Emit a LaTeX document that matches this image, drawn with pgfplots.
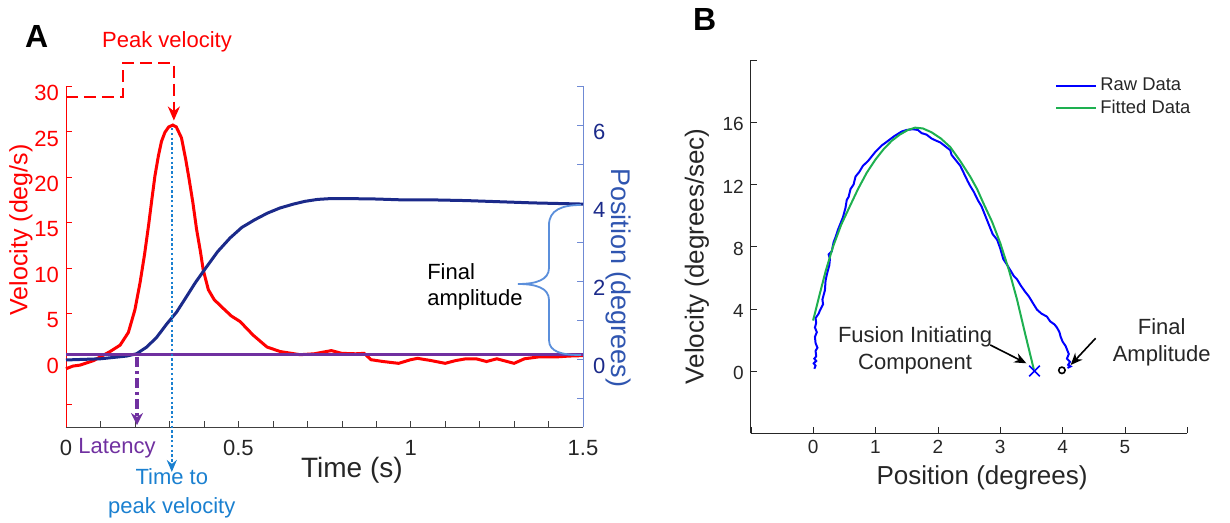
\documentclass[border=0pt]{standalone}
\usepackage{fontspec}
\setmainfont{Liberation Sans}
\usepackage{pgfplots}
\pgfplotsset{compat=1.18}
\usetikzlibrary{arrows.meta}

\definecolor{velred}{HTML}{FF0000}
\definecolor{posnavy}{HTML}{1B2A8A}
\definecolor{posaxis}{HTML}{6F8AD4}
\definecolor{poslab}{HTML}{2F55B0}
\definecolor{latpurple}{HTML}{7030A0}
\definecolor{peakblue}{HTML}{1A80D0}
\definecolor{bracecol}{HTML}{5B8FDB}
\definecolor{axgray}{HTML}{404040}
\definecolor{txtgray}{HTML}{262626}
\definecolor{rawblue}{HTML}{0000FF}
\definecolor{fitgreen}{HTML}{1EB050}

\pgfplotsset{
  every axis/.append style={/pgf/number format/assume math mode=true, clip=false,
    scale only axis, tick align=inside, major tick length=3pt, minor tick length=3pt},
}
\newcommand{\fs}[1]{\fontsize{#1}{1.2\dimexpr#1pt\relax}\selectfont}

\begin{document}
\begin{tikzpicture}
\path[use as bounding box] (0,0) rectangle (615pt,261.5pt);

% ---- panel A, velocity (left axis)
\begin{axis}[at={(33pt,48pt)}, anchor=south west, width=258.5pt, height=170.5pt,
  xmin=0, xmax=1.5, ymin=-7.5, ymax=30,
  axis x line*=bottom, axis y line*=left,
  x axis line style={axgray}, y axis line style={velred},
  xtick={0,0.5,1,1.5}, minor xtick={0.1,0.2,...,1.45},
  ytick={-5,0,5,...,30}, yticklabels={,0,5,10,15,20,25,30},
  x tick style={axgray}, y tick style={velred},
  xticklabel style={font=\fs{11}, text=txtgray, yshift=-3pt},
  yticklabel style={font=\fs{11}, text=velred, yshift=-3.5pt},
  xlabel={Time (s)},
  every axis x label/.style={at={(axis description cs:0.553,-0.127)}, anchor=center, font=\fs{14}, text=txtgray},
  ylabel={Velocity (deg/s)},
  every axis y label/.style={at={(axis description cs:-0.087,0.578)}, rotate=90, anchor=center, font=\fs{12.5}, text=velred},
]
\addplot[velred, line width=1.5pt] coordinates {
(0,-1.1)(0.02,-0.8)(0.04,-0.7)(0.06,-0.45)(0.08,-0.2)(0.099,0.2)(0.128,0.8)(0.157,1.5)
(0.181,2.9)(0.2,5.4)(0.215,8.4)(0.228,11.5)(0.24,14.8)(0.249,17.5)(0.258,20.1)(0.268,22.3)
(0.277,23.9)(0.287,24.9)(0.298,25.5)(0.31,25.7)(0.32,25.5)(0.335,24.3)(0.347,22.0)(0.357,19.8)
(0.368,17.2)(0.379,14.2)(0.39,11.8)(0.398,9.8)(0.413,7.6)(0.43,6.5)(0.456,5.55)(0.48,4.7)
(0.505,4.1)(0.543,2.6)(0.583,1.3)(0.621,0.8)(0.679,0.45)(0.72,0.55)(0.77,0.9)
(0.80,0.6)(0.84,0.55)(0.865,0.6)(0.885,-0.1)(0.92,-0.3)(0.965,-0.5)(1.0,-0.1)(1.02,0.05)
(1.06,-0.2)(1.10,-0.5)(1.13,-0.2)(1.16,0.0)(1.19,0.0)(1.22,-0.3)(1.25,0.0)(1.3,-0.5)
(1.33,0.0)(1.37,0.2)(1.42,0.2)(1.46,0.3)(1.5,0.35)};
\draw[velred, line width=1.2pt, dash pattern=on 6pt off 3pt, -{Stealth[length=7pt,width=6pt]}]
  (axis cs:0,28.8) -- (axis cs:0.165,28.8) -- (axis cs:0.165,32.5) -- (axis cs:0.313,32.5) -- (axis cs:0.313,26.2);
\node[velred, font=\fs{11}] at (axis cs:0.293,34.84) {Peak velocity};
\node[font=\bfseries\fs{16}] at (axis cs:-0.085,35.4) {A};
\node[anchor=west, align=left, inner sep=0pt, font=\fs{11}] at (axis cs:1.047,7.9) {Final\\amplitude};
\end{axis}

% ---- panel A, position (right axis)
\begin{axis}[at={(33pt,48pt)}, anchor=south west, width=258.5pt, height=170.5pt,
  xmin=0, xmax=1.5, ymin=-1.75, ymax=7,
  axis x line=none, axis y line*=right,
  y axis line style={posaxis}, y tick style={posaxis},
  ytick={0,2,4,6}, minor ytick={-1,1,3,5,7},
  yticklabel style={font=\fs{11}, text=posnavy, yshift=-3.7pt, xshift=1.5pt},
  ylabel={Position (degrees)},
  every axis y label/.style={at={(axis description cs:1.068,0.437)}, rotate=-90, anchor=center, font=\fs{13.5}, text=poslab},
]
\addplot[posnavy, line width=1.5pt] coordinates {
(0,-0.03)(0.1,0)(0.176,0.07)(0.205,0.13)(0.234,0.3)(0.263,0.55)(0.292,0.89)(0.321,1.2)
(0.35,1.6)(0.375,1.95)(0.403,2.3)(0.44,2.75)(0.476,3.1)(0.51,3.37)(0.548,3.57)(0.585,3.74)
(0.621,3.87)(0.66,3.97)(0.693,4.04)(0.73,4.09)(0.766,4.11)(0.824,4.11)(0.9,4.1)(0.968,4.08)
(1.05,4.08)(1.16,4.06)(1.355,4.0)(1.5,3.97)};
\addplot[latpurple, line width=1.4pt] coordinates {(0,0.1)(1.5,0.1)};
\draw[latpurple, line width=1.8pt, dash pattern=on 5pt off 2pt on 1.5pt off 2pt, -{Stealth[length=6pt,width=6pt]}]
  (axis cs:0.206,0.05) -- (axis cs:0.206,-1.70);
\draw[peakblue, line width=1.2pt, dash pattern=on 1.2pt off 1.2pt, -{Stealth[length=6pt,width=5pt]}]
  (axis cs:0.307,5.92) -- (axis cs:0.307,-2.905);
\node[latpurple, font=\fs{11}] at (axis cs:0.148,-2.3) {Latency};
\node[peakblue, align=center, anchor=center, font=\fontsize{11}{14.5}\selectfont] at (axis cs:0.307,-3.458) {Time to\\peak velocity};
\end{axis}

% brace for the final amplitude
\begin{scope}[x=0.5pt, y=0.5pt]
\draw[bracecol, line width=0.9pt] (581,318) .. controls (562,318) and (549,313) .. (549,298) -- (549,255)
  .. controls (549,243) and (536,239) .. (518,239) .. controls (536,239) and (549,235) .. (549,223)
  -- (549,183) .. controls (549,171) and (562,168) .. (581,168);
\end{scope}

% ---- panel B
\begin{axis}[at={(375.35pt,44.85pt)}, anchor=south west, width=218.3pt, height=186.65pt,
  xmin=-1, xmax=6, ymin=-4, ymax=20,
  axis x line*=bottom, axis y line*=left, axis line style={txtgray}, tick style={txtgray},
  xtick={-1,0,...,6}, xticklabels={,0,1,2,3,4,5,},
  ytick={-4,0,4,...,20}, yticklabels={,0,4,8,12,16,},
  ticklabel style={font=\fs{9.5}, text=txtgray},
  yticklabel style={yshift=-1pt},
  xlabel={Position (degrees)},
  every axis x label/.style={at={(axis description cs:0.53,-0.12)}, anchor=center, font=\fs{13}, text=txtgray},
  ylabel={Velocity (degrees/sec)},
  every axis y label/.style={at={(axis description cs:-0.123,0.474)}, rotate=90, anchor=center, font=\fs{13}, text=txtgray},
  legend style={at={(axis description cs:0.697,0.96)}, anchor=north west, draw=none, fill=none,
    font=\fs{9.2}, text=txtgray, inner sep=0pt, row sep=0pt, nodes={inner sep=1.5pt}},
  legend cell align=left,
  legend image code/.code={\draw[#1] (0pt,0pt) -- (20pt,0pt);},
]
\addplot[rawblue, line width=1pt] coordinates {
(0.02,0.15)(0.04,0.35)(0.01,0.5)(0.05,0.65)(0.02,0.8)(0.05,0.95)(0.04,1.3)(0.07,1.5)
(0.04,1.8)(0.03,2.2)(0.06,2.5)(0.03,2.8)(0.05,3.1)(0.04,3.4)(0.09,3.7)(0.11,3.9)
(0.16,4.3)(0.15,4.6)(0.19,5.2)(0.2,5.8)(0.22,6.2)(0.26,6.8)(0.27,7.2)(0.25,7.5)
(0.3,7.7)(0.33,8.3)(0.36,8.6)(0.4,9.1)(0.43,9.4)(0.48,9.9)(0.52,10.5)(0.54,11.0)
(0.57,11.2)(0.6,11.7)(0.65,12.0)(0.68,12.5)(0.74,12.8)(0.8,13.2)(0.88,13.5)(0.94,13.8)
(1.0,14.1)(1.1,14.5)(1.2,14.8)(1.3,15.1)(1.34,15.2)(1.42,15.4)(1.5,15.5)(1.6,15.55)
(1.68,15.5)(1.74,15.3)(1.82,15.2)(1.9,14.95)(1.98,14.8)(2.04,14.7)(2.12,14.45)(2.2,14.2)
(2.22,13.9)(2.28,13.6)(2.36,13.2)(2.42,12.7)(2.48,12.2)(2.52,11.9)(2.58,11.5)(2.64,11.0)
(2.7,10.6)(2.73,10.3)(2.78,9.8)(2.84,9.2)(2.88,8.8)(2.95,8.45)(3.0,7.9)(3.05,7.2)
(3.1,6.9)(3.16,6.5)(3.22,6.1)(3.27,5.9)(3.33,5.5)(3.4,5.1)(3.46,4.8)(3.52,4.4)
(3.59,3.95)(3.66,3.7)(3.75,3.5)(3.8,3.2)(3.87,3.0)(3.91,2.8)(3.95,2.5)(3.97,2.2)
(4.0,1.9)(4.05,1.6)(4.08,1.3)(4.10,1.1)(4.07,0.8)(4.12,0.6)(4.09,0.4)(4.13,0.3)(4.08,0.2)};
\addlegendentry{Raw Data}
\addplot[fitgreen, line width=1pt] coordinates {
(0,3.25)(0.11,5.0)(0.2,6.4)(0.32,8.0)(0.45,9.4)(0.59,10.6)(0.72,11.7)(0.86,12.75)
(1.0,13.6)(1.13,14.26)(1.26,14.8)(1.39,15.2)(1.52,15.5)(1.635,15.65)(1.76,15.6)(1.9,15.35)
(2.05,14.95)(2.2,14.4)(2.36,13.5)(2.52,12.5)(2.63,11.7)(2.73,10.8)(2.87,9.6)(3.0,8.24)
(3.14,6.5)(3.27,4.6)(3.4,2.4)(3.54,0.1)};
\addlegendentry{Fitted Data}
\addplot[only marks, mark=x, mark size=3.75pt, rawblue, line width=0.8pt, forget plot] coordinates {(3.55,0)};
\addplot[only marks, mark=o, mark size=1.6pt, black, line width=0.8pt, forget plot] coordinates {(3.99,0.05)};
\draw[-{Stealth[length=6pt,width=5pt]}, line width=0.8pt] (axis cs:2.84,1.68) -- (axis cs:3.42,0.5);
\draw[-{Stealth[length=6pt,width=5pt]}, line width=0.8pt] (axis cs:4.53,2.11) -- (axis cs:4.13,0.39);
\node[align=center, font=\fontsize{11}{13.5}\selectfont, text=txtgray] at (axis cs:1.635,1.35) {Fusion Initiating\\Component};
\node[align=center, font=\fontsize{11}{13.5}\selectfont, text=txtgray] at (axis cs:5.59,1.87) {Final\\Amplitude};
\node[font=\bfseries\fs{16}] at (axis cs:-1.74,22.6) {B};
\end{axis}
\end{tikzpicture}
\end{document}
